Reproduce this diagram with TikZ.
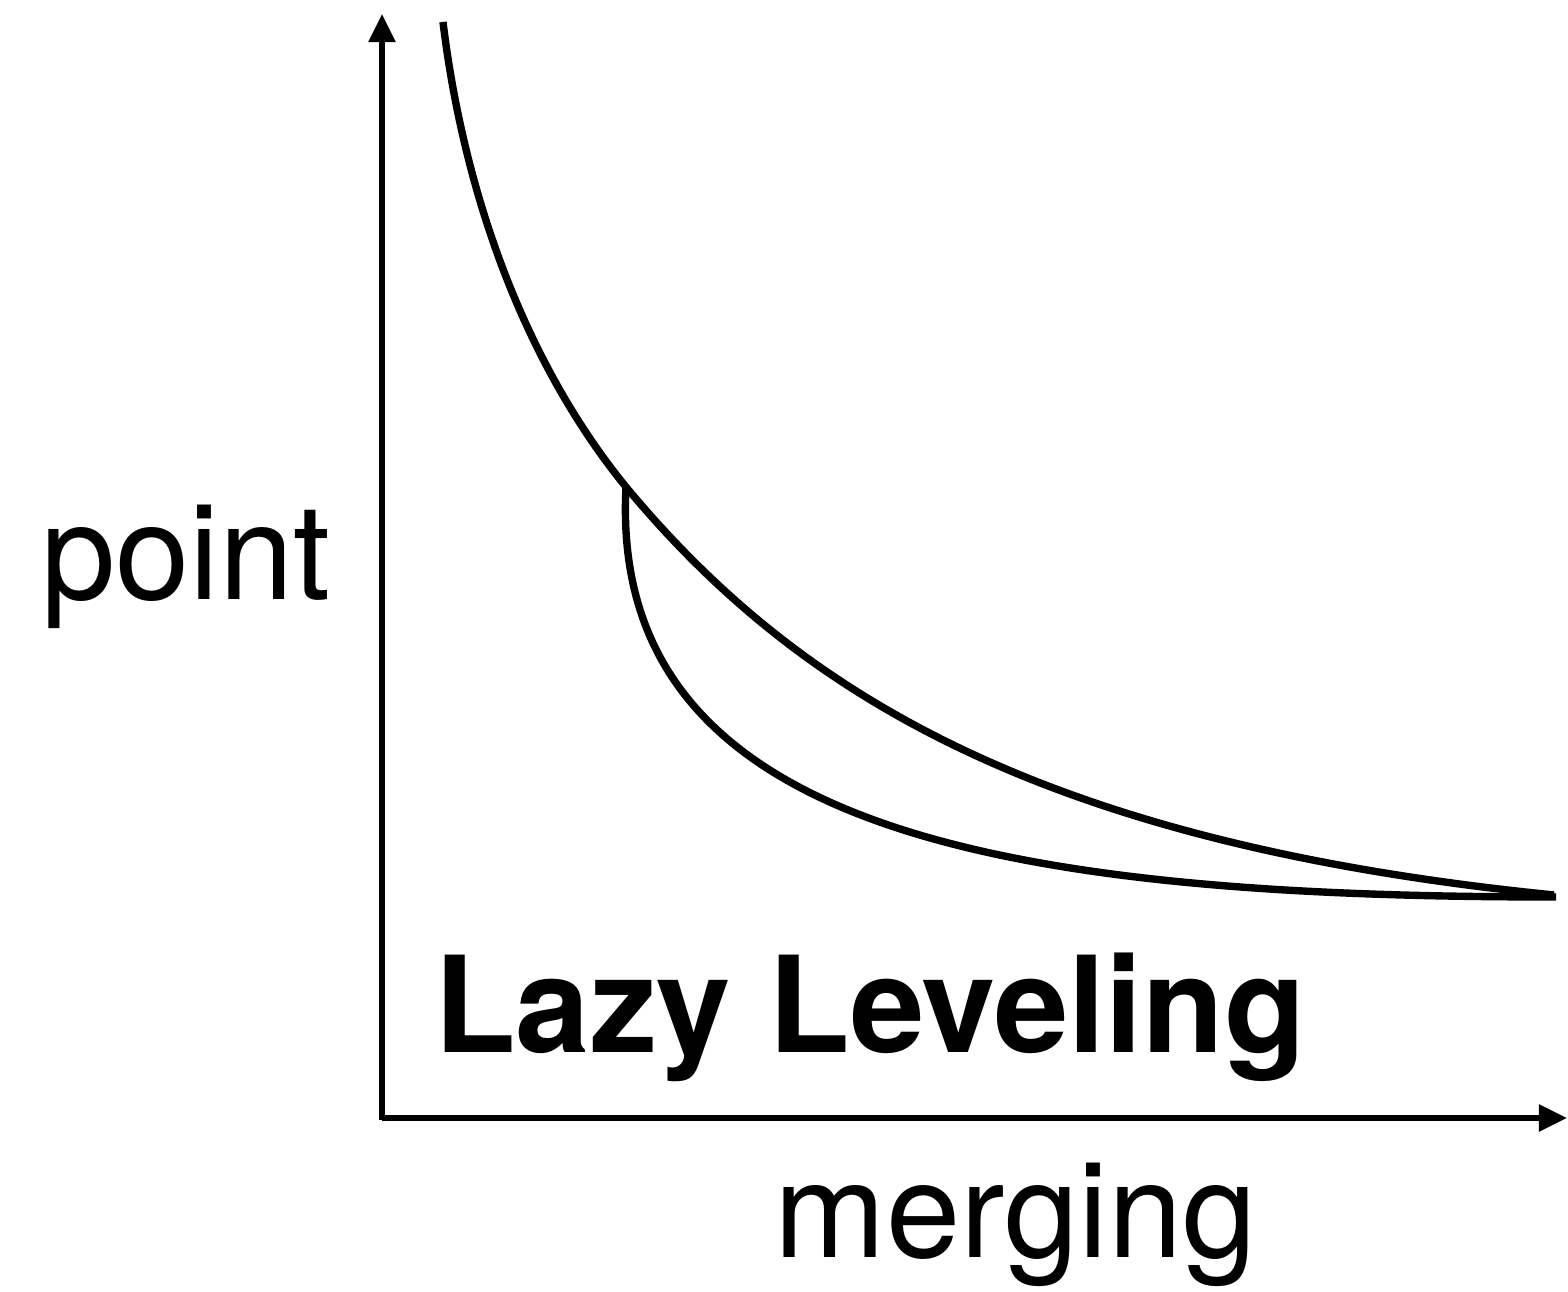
\documentclass[tikz,border=0pt]{standalone}
\usepackage{fontspec}
\setmainfont{TeX Gyre Heros}
\usetikzlibrary{arrows.meta,positioning,calc}

\begin{document}
\begin{tikzpicture}[
    x=0.01cm, y=-0.01cm,
    axis/.style={line width=1.6pt, -{Triangle[width=0.26cm,length=0.28cm]}},
    curve/.style={line width=2.1pt},
    lbl/.style={anchor=base, inner sep=0pt, font=\fontsize{38}{40}\selectfont},
    title/.style={anchor=base, inner sep=0pt, font=\fontsize{38}{40}\selectfont\bfseries}
]
\useasboundingbox (0,0) rectangle (1568,1292);

\coordinate (origin) at (382,1118);
\coordinate (ytip) at (382,14);
\coordinate (xtip) at (1567,1118);
\coordinate (top) at (443,22);
\coordinate (split) at (626,487);
\coordinate (endhi) at (1554,895);
\coordinate (endlo) at (1556,897);

\draw[axis] ($(origin)+(0,2)$) -- (ytip);
\draw[axis] (origin) -- (xtip);

% upper curve
\draw[curve] (top) .. controls (463,187) and (521,358) .. (split)
    .. controls (795,690) and (1035,843) .. (endhi);
% lower curve
\draw[curve] (split) .. controls (608,830) and (1000,897) .. (endlo);

\node[lbl] (ylabel) at (186,600) {point};
\node[lbl] (xlabel) at (1016,1258) {merging};
\node[title] (name) at (870,1053) {Lazy Leveling};
\end{tikzpicture}
\end{document}
